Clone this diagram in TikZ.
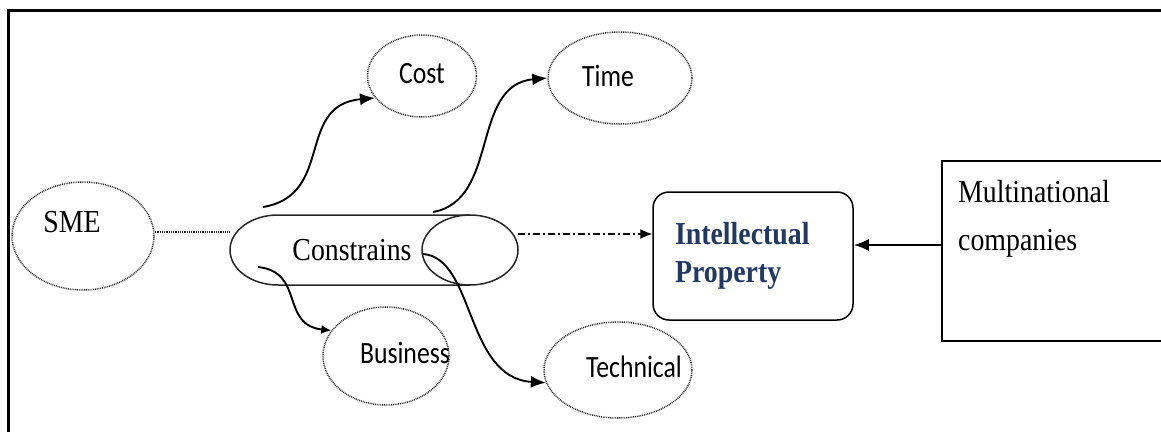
\documentclass[tikz,border=0pt]{standalone}
\usepackage{fontspec}
\setmainfont[FakeStretch=0.87]{Liberation Serif}
\newfontfamily\carlito[FakeStretch=0.83]{Carlito}
\usetikzlibrary{shapes.geometric, arrows.meta}
\definecolor{ipblue}{RGB}{31,56,100}
\begin{document}
\begin{tikzpicture}[x=1pt, y=1pt, >={Latex[length=15pt, width=12pt]},
	oval/.style = {draw=black!85, line width=1.5pt, dash pattern=on 0.9pt off 0.9pt, ellipse, inner sep=0pt},
	word/.style = {inner sep=0pt, font=\carlito\fontsize{31}{36}\selectfont},
	serif/.style = {inner sep=0pt, font=\fontsize{32}{36}\selectfont},
	link/.style = {->, line width=1.9pt}]

		\useasboundingbox (0,0) rectangle (1161,-431);
		\draw[line width=3pt] (8,-440) -- (8,-10) -- (1170,-10);

		\node[oval, minimum width=142, minimum height=108] (sme) at (83,-236) {};
		\node[oval, minimum width=109, minimum height=82] (cost) at (422,-76) {};
		\node[oval, minimum width=144, minimum height=92] (time) at (620,-78) {};
		\node[oval, minimum width=126, minimum height=98] (business) at (386,-356) {};
		\node[oval, minimum width=148, minimum height=96] (technical) at (618,-370) {};

		\node[serif] (smetext) at (72,-222) {SME};
		\node[word] (costtext) at (422,-74) {Cost};
		\node[word] (timetext) at (608,-76) {Time};
		\node[word] (businesstext) at (405,-353) {Business};
		\node[word] (technicaltext) at (634,-367) {Technical};

		\node[serif] (con) at (352,-250) {Constrains};
		\draw[line width=1.5pt, black!85] (470,-215) -- (278,-215) arc (90:270:48 and 35) -- (470,-285);
		\draw[line width=1.5pt, black!85] (470,-250) ellipse (48 and 35);
		\coordinate (conl) at (230,-232);
		\coordinate (conr) at (518,-234);

		\node[draw, line width=1.5pt, rounded corners=16pt, minimum height=128, inner xsep=22pt, text width=156pt, align=left, text=ipblue, font=\bfseries\fontsize{32}{38}\selectfont] (ip) at (753,-256) {Intellectual\\Property};

		\node[draw, line width=1.5pt, minimum width=240, minimum height=180, anchor=north west] (mnc) at (941,-160) {};
		\node[anchor=north west, align=left, inner sep=0pt, font=\fontsize{32}{48}\selectfont] (mnctext) at (958,-180) {Multinational\\companies};

		\draw[line width=1.4pt, black!85, dash pattern=on 0.9pt off 0.9pt] (sme.east |- conl) -- (conl);
		\draw[-{Latex[length=12pt, width=10pt]}, line width=1.3pt, dash pattern=on 7pt off 3pt on 2pt off 3pt] (conr) -- (ip.west |- conr);
		\draw[link] (mnc.west |- 0,-245) -- (ip.east |- 0,-245);

		\coordinate (c1) at (263,-207);
		\coordinate (c2) at (433,-212);
		\coordinate (c3) at (258,-267);
		\coordinate (c4) at (423,-254);
		\draw[link] (c1) .. controls (335,-195) and (295,-105) .. (cost.205);
		\draw[link] (c2) .. controls (500,-200) and (470,-85) .. (time.west);
		\draw[link, -{Latex[length=10pt, width=9pt]}] (c3) .. controls (305,-272) and (280,-325) .. (business.155);
		\draw[link] (c4) .. controls (475,-258) and (465,-378) .. (technical.190);
	\end{tikzpicture}
\end{document}
